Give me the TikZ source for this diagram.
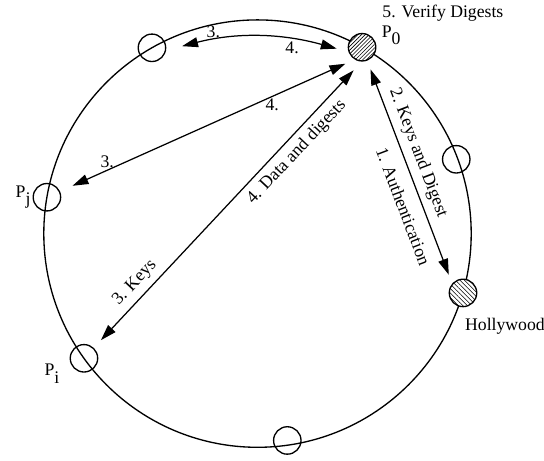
\documentclass[tikz,border=0pt]{standalone}
\usepackage{fontspec}
\setmainfont{Liberation Serif}
\usetikzlibrary{arrows.meta, positioning, patterns.meta}
\newcommand{\psub}[1]{\raisebox{-0.4em}{#1}}
\tikzset{
	ring/.style={line width=0.75pt},
	peer/.style={circle, draw, line width=0.75pt, minimum size=15.5pt, inner sep=0pt},
	hubpeer/.style={peer, preaction={fill=white}, pattern={Lines[angle=45, distance=1.5pt, line width=0.35pt]}},
	hollypeer/.style={peer, preaction={fill=white}, pattern={Lines[angle=-45, distance=1.8pt, line width=0.35pt]}},
	lbl/.style={inner sep=1pt},
	tag/.style={sloped},
	msg/.style={{Triangle[length=9pt, width=5.6pt]}-{Triangle[length=9pt, width=5.6pt]}, line width=0.7pt},
}

\begin{document}
\begin{tikzpicture}[x=0.565pt, y=0.565pt]
		\useasboundingbox (-257.5,-226.4) rectangle (286.5,233.6);
		\coordinate (c) at (0,0);
		\draw[ring] (c) circle[radius=213.7];
		% peers on the ring
		\node[hubpeer, label={[lbl, anchor=south west, label distance=2pt]0:P\psub{0}}] (p0) at (60.7:213.7) {};
		\node[peer] (ptop) at (119.6:213.7) {};
		\node[peer, label={[lbl]180:P\psub{j}}] (pj) at (170.2:213.7) {};
		\node[peer, label={[lbl, anchor=north east, label distance=4.8pt]190:P\psub{i}}] (pii) at (215.7:213.7) {};
		\node[peer] (pbot) at (278.2:209) {};
		\node[peer] (pside) at (20.5:212.2) {};
		\node[hollypeer, label={[lbl, anchor=north west, label distance=5.4pt]-90:Hollywood}] (hw) at (-16.1:213.9) {};
		\node[lbl, above right=7.9pt and 4.7pt of p0] (verify) {5. Verify Digests};
		% messages
		\draw[msg, shorten <=5.4pt, shorten >=5.5pt] (p0) -- (hw.140)
			node[tag, above, pos=0.438] {2. Keys and Digest}
			node[tag, below=3pt, pos=0.624] {1. Authentication};
		\draw[msg, shorten <=5.9pt, shorten >=7pt] (pii) -- (p0.south)
			node[tag, above, pos=0.192] {3. Keys}
			node[tag, below, pos=0.717] {4. Data and digests};
		\draw[msg, shorten <=6pt, shorten >=7.7pt] (p0.-120) -- (pj)
			node[lbl, below, pos=0.281] {4.}
			node[lbl, above, pos=0.84] {3.};
		\draw[msg, shorten <=9.3pt, shorten >=7.1pt] (ptop.-10) to[bend left=15]
			node[lbl, above, pos=0.245] {3.}
			node[lbl, below, pos=0.70] {4.} (p0.-160);
	\end{tikzpicture}
\end{document}
